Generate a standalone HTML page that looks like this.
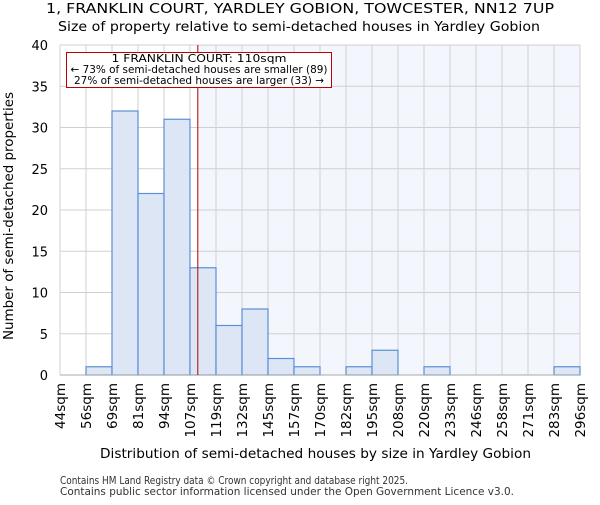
<!DOCTYPE html>
<html><head><meta charset="utf-8"><style>
body{margin:0;background:#fff;font-family:"Liberation Sans","DejaVu Sans",sans-serif}
text{font-family:"DejaVu Sans","Liberation Sans",sans-serif}
</style></head><body>
<svg id="chart" width="600" height="500" xmlns="http://www.w3.org/2000/svg">
<text x="46" y="13" font-size="13" textLength="508" lengthAdjust="spacingAndGlyphs">1, FRANKLIN COURT, YARDLEY GOBION, TOWCESTER, NN12 7UP</text>
<text x="58" y="31" font-size="13" textLength="482" lengthAdjust="spacingAndGlyphs">Size of property relative to semi-detached houses in Yardley Gobion</text>
<g id="plot"></g>
<text x="100" y="458" font-size="13" textLength="431" lengthAdjust="spacingAndGlyphs">Distribution of semi-detached houses by size in Yardley Gobion</text>
<text transform="translate(13,340) rotate(-90)" font-size="13" textLength="248" lengthAdjust="spacingAndGlyphs">Number of semi-detached properties</text>
<text x="60" y="484" font-size="11" fill="#333" textLength="348" lengthAdjust="spacingAndGlyphs">Contains HM Land Registry data © Crown copyright and database right 2025.</text>
<text x="60" y="495" font-size="11" fill="#333" textLength="454" lengthAdjust="spacingAndGlyphs">Contains public sector information licensed under the Open Government Licence v3.0.</text>
</svg>
<script>
const binLabels=["44sqm","56sqm","69sqm","81sqm","94sqm","107sqm","119sqm","132sqm","145sqm","157sqm","170sqm","182sqm","195sqm","208sqm","220sqm","233sqm","246sqm","258sqm","271sqm","283sqm","296sqm"];
const counts=[0,1,32,22,31,13,6,8,2,1,0,1,3,0,1,0,0,0,0,1];
const yTicks=[0,5,10,15,20,25,30,35,40];
const propertyBinPos=[5.3];
const NS="http://www.w3.org/2000/svg";
const x0=60,step=26,yBase=375,yTop=45,yMax=40;
const xs=i=>x0+i*step;
const ys=v=>yBase-(v/yMax)*(yBase-yTop);
const g=document.getElementById('plot');
function mk(t,a){const e=document.createElementNS(NS,t);for(const k in a)e.setAttribute(k,a[k]);g.appendChild(e);return e;}
const xEnd=xs(counts.length);
const lx=xs(propertyBinPos[0]);
let e=mk('rect',{x:lx,y:yTop,width:xEnd-lx,height:yBase-yTop,fill:'#f3f6fd'});


for(let i=0;i<=counts.length;i++){
 e=mk('line',{x1:xs(i),x2:xs(i),y1:yTop,y2:yBase,stroke:'#d0d0d0','stroke-width':1});
 
 
 e=mk('text',{transform:`translate(${xs(i)+5},${yBase+8}) rotate(-90)`,'text-anchor':'end','font-size':13.5});
 e.textContent=binLabels[i];
 
 
}
yTicks.forEach(v=>{
 e=mk('line',{x1:x0,x2:xEnd,y1:ys(v),y2:ys(v),stroke:'#d0d0d0','stroke-width':1});
 
 
 e=mk('text',{x:x0-12,y:ys(v)+5,'text-anchor':'end','font-size':13});
 e.textContent=v;
 
 
});
counts.forEach((c,i)=>{
 if(c<=0)return;
 e=mk('rect',{x:xs(i),y:ys(c),width:step,height:yBase-ys(c),fill:'#dce6f4',stroke:'#5b8fd6','stroke-width':1.2});
 
 
});
e=mk('line',{x1:x0,x2:xEnd,y1:yBase,y2:yBase,stroke:'#aaa','stroke-width':1});


e=mk('line',{x1:lx,x2:lx,y1:yTop,y2:yBase,stroke:'#b00000','stroke-width':1});


e=mk('rect',{x:66.5,y:52.5,width:265,height:35,fill:'#fff',stroke:'#c00000','stroke-width':1});


[["1 FRANKLIN COURT: 110sqm",62,175],["← 73% of semi-detached houses are smaller (89)",73,257],["27% of semi-detached houses are larger (33) →",84,250]].forEach(([t,y,w])=>{
 e=mk('text',{x:199,y:y,'text-anchor':'middle','font-size':10.5,textLength:w,lengthAdjust:'spacingAndGlyphs'});
 e.textContent=t;
 
 
});
</script>
</body></html>
